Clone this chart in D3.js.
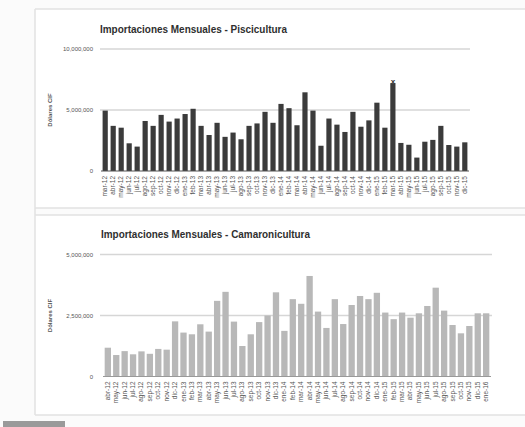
<!DOCTYPE html>
<html>
<head>
<meta charset="utf-8">
<script src="https://cdn.jsdelivr.net/npm/d3@7"></script>
<style>
  body { margin: 0; background: #fbfbfb; }
  svg { display: block; font-family: "Liberation Sans Narrow", "Liberation Sans", Arial, sans-serif; }
</style>
</head>
<body>
<svg id="chart" width="525" height="427"></svg>
<script>

// Piscicultura: mar-12 .. dic-15
const monthsFish = [
  "mar-12","abr-12","may-12","jun-12","jul-12","ago-12","sep-12","oct-12","nov-12","dic-12",
  "ene-13","feb-13","mar-13","abr-13","may-13","jun-13","jul-13","ago-13","sep-13","oct-13","nov-13","dic-13",
  "ene-14","feb-14","mar-14","abr-14","may-14","jun-14","jul-14","ago-14","sep-14","oct-14","nov-14","dic-14",
  "ene-15","feb-15","mar-15","abr-15","may-15","jun-15","jul-15","ago-15","sep-15","oct-15","nov-15","dic-15"
];
const valuesFish = [
  4950000, 3700000, 3550000, 2270000, 2000000, 4100000, 3700000, 4600000, 4050000, 4300000,
  4670000, 5100000, 3700000, 2950000, 3950000, 2800000, 3150000, 2600000, 3700000, 3900000, 4850000, 3950000,
  5500000, 5150000, 3750000, 6450000, 4950000, 2070000, 4300000, 3800000, 3200000, 4850000, 3630000, 4150000,
  5600000, 3550000, 7200000, 2300000, 2150000, 1100000, 2400000, 2550000, 3700000, 2130000, 2000000, 2350000
];
const ticksFish = [0, 5000000, 10000000];

// Camaronicultura: abr-12 .. ene-16
const monthsShrimp = [
  "abr-12","may-12","jun-12","jul-12","ago-12","sep-12","oct-12","nov-12","dic-12",
  "ene-13","feb-13","mar-13","abr-13","may-13","jun-13","jul-13","ago-13","sep-13","oct-13","nov-13","dic-13",
  "ene-14","feb-14","mar-14","abr-14","may-14","jun-14","jul-14","ago-14","sep-14","oct-14","nov-14","dic-14",
  "ene-15","feb-15","mar-15","abr-15","may-15","jun-15","jul-15","ago-15","sep-15","oct-15","nov-15","dic-15",
  "ene-16"
];
const valuesShrimp = [
  1180000, 880000, 1040000, 910000, 1030000, 930000, 1130000, 1100000, 2260000,
  1800000, 1730000, 2140000, 1840000, 3100000, 3470000, 2250000, 1250000, 1730000, 2230000, 2500000, 3450000,
  1870000, 3170000, 2980000, 4120000, 2660000, 1990000, 3170000, 2150000, 2930000, 3300000, 3170000, 3430000,
  2620000, 2350000, 2620000, 2410000, 2590000, 2890000, 3640000, 2700000, 2110000, 1770000, 2070000, 2590000,
  2590000
];
const ticksShrimp = [0, 2500000, 5000000];

const svg = d3.select("#chart");
const fmt = d3.format(",");

// page frame (scanned report look)
svg.append("rect").attr("x", 35).attr("y", 9).attr("width", 490).attr("height", 199).attr("fill", "#fff");
svg.append("rect").attr("x", 35).attr("y", 215).attr("width", 490).attr("height", 200).attr("fill", "#fff");
[[35, 9, 525, 9], [35, 208, 525, 208], [35, 215, 525, 215], [35, 415, 525, 415], [35, 9, 35, 415]]
  .forEach(([x1, y1, x2, y2]) => {
    svg.append("line")
      .attr("x1", x1).attr("y1", y1).attr("x2", x2).attr("y2", y2)
      .attr("stroke", "#e2e2e2").attr("stroke-width", 1.5);
  });
svg.append("rect").attr("x", 3).attr("y", 421).attr("width", 62).attr("height", 6).attr("fill", "#9a9a9a");

function drawPanel(cfg) {

  const g = svg.append("g");

  const x = d3.scaleBand()
    .domain(cfg.months)
    .range(cfg.xRange)
    .paddingInner(cfg.padInner)
    .paddingOuter(0.2);

  const y = d3.scaleLinear()
    .domain([0, cfg.max])
    .range(cfg.yRange);

  // title
  g.append("text")
    .attr("x", cfg.titleX)
    .attr("y", cfg.titleY)
    .attr("font-size", 10.5)
    .attr("font-weight", "bold")
    .attr("fill", "#2f2f2f")
    .attr("textLength", cfg.titleLen)
    .attr("lengthAdjust", "spacingAndGlyphs")
    .text(cfg.title);

  // gridlines
  g.append("g")
    .selectAll("line")
    .data(cfg.ticks.filter(d => d > 0))
    .join("line")
    .attr("x1", 100)
    .attr("x2", cfg.gridEnd)
    .attr("y1", d => y(d))
    .attr("y2", d => y(d))
    .attr("stroke", "#d6d6d6")
    .attr("stroke-width", 1.5);

  // y axis labels
  g.append("g")
    .selectAll("text")
    .data(cfg.ticks)
    .join("text")
    .attr("x", 93)
    .attr("y", d => y(d))
    .attr("dy", "0.35em")
    .attr("text-anchor", "end")
    .attr("font-size", 6)
    .attr("fill", "#555")
    .text(d => fmt(d));

  // y axis title
  g.append("text")
    .attr("transform", `translate(52,${(cfg.yRange[0] + cfg.yRange[1]) / 2}) rotate(-90)`)
    .attr("text-anchor", "middle")
    .attr("font-size", 6)
    .attr("font-weight", "bold")
    .attr("fill", "#555")
    .text("Dólares CIF");

  // bars
  g.append("g")
    .selectAll("rect")
    .data(cfg.values)
    .join("rect")
    .attr("x", (d, i) => x(cfg.months[i]))
    .attr("y", d => y(d))
    .attr("width", x.bandwidth())
    .attr("height", d => y(0) - y(d))
    .attr("fill", cfg.color);

  // baseline
  g.append("line")
    .attr("x1", cfg.xRange[0]).attr("x2", cfg.xRange[1])
    .attr("y1", y(0)).attr("y2", y(0))
    .attr("stroke", cfg.baseColor)
    .attr("stroke-width", 1);

  // month labels
  g.append("g")
    .selectAll("text")
    .data(cfg.months)
    .join("text")
    .attr("transform", d => `translate(${x(d) + x.bandwidth() / 2 + 2},${y(0) + 5}) rotate(-90)`)
    .attr("text-anchor", "end")
    .attr("font-size", 6.5)
    .attr("fill", "#555")
    .text(d => d);

  return { x, y };
}

const fishPanel = drawPanel({
  title: "Importaciones Mensuales - Piscicultura",
  titleX: 100, titleY: 33, titleLen: 187,
  months: monthsFish, values: valuesFish, ticks: ticksFish,
  max: 10000000, xRange: [101, 469], yRange: [171, 49],
  padInner: 0.35, gridEnd: 470,
  color: "#3b3b3b", baseColor: "#555"
});

const shrimpPanel = drawPanel({
  title: "Importaciones Mensuales - Camaronicultura",
  titleX: 101, titleY: 238, titleLen: 209,
  months: monthsShrimp, values: valuesShrimp, ticks: ticksShrimp,
  max: 5000000, xRange: [103, 491], yRange: [376.5, 254.5],
  padInner: 0.25, gridEnd: 492,
  color: "#b8b8b8", baseColor: "#999"
});

// hand mark above the mar-15 bar
const peakValue = d3.max(valuesFish);
const peakMonth = monthsFish[valuesFish.indexOf(peakValue)];
svg.append("text")
  .attr("x", fishPanel.x(peakMonth) + fishPanel.x.bandwidth() / 2)
  .attr("y", fishPanel.y(peakValue) + 1)
  .attr("text-anchor", "middle")
  .attr("font-size", 8)
  .attr("font-weight", "bold")
  .attr("fill", "#333")
  .text("x");

</script>
</body>
</html>
